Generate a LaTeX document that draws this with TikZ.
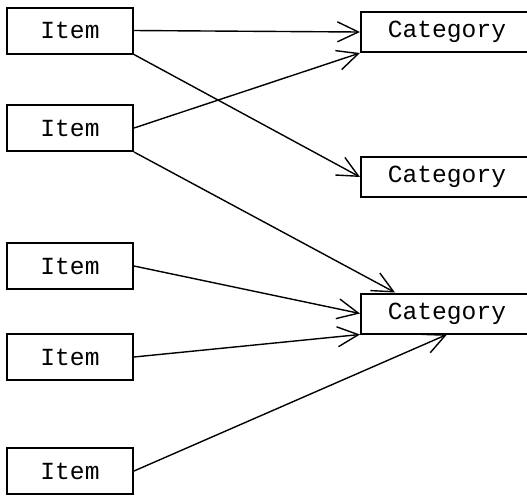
\documentclass[tikz,border=0pt]{standalone}
\usepackage{fontspec}
\setmonofont{Liberation Mono}
\usetikzlibrary{arrows.meta,positioning}
\tikzset{
  itembox/.style={draw=black,fill=white,line width=1pt,
                  minimum width=63pt,minimum height=23pt,
                  inner sep=0pt,font=\ttfamily\fontsize{12.3}{14}\selectfont},
  catbox/.style={draw=black,fill=white,line width=1pt,
                 minimum width=86pt,minimum height=20pt,
                 inner sep=0pt,font=\ttfamily\fontsize{12.3}{14}\selectfont},
  maparr/.style={-{Straight Barb[length=10.5pt,width=10pt,line width=0.7pt]},line width=0.7pt}
}

\begin{document}
\begin{tikzpicture}[x=0.5pt,y=-0.5pt]
      \clip (0,0) rectangle (527,495);
      \node[itembox] (i1) at (70,30.5) {Item};
      \node[itembox] (i2) at (70,128) {Item};
      \node[itembox] (i3) at (70,266) {Item};
      \node[itembox] (i4) at (70,357) {Item};
      \node[itembox] (i5) at (70,471) {Item};
      \node[catbox] (c1) at (447,32) {Category};
      \node[catbox] (c2) at (447,177) {Category};
      \node[catbox] (c3) at (447,313.5) {Category};
      \draw[maparr] (i1.east)--(c1.west);
      \draw[maparr] (i1.south east)--(c2.west);
      \draw[maparr] (i2.east)--(c1.south west);
      \draw[maparr] (i2.south east)--(c3.158);
      \draw[maparr] (i3.east)--(c3.west);
      \draw[maparr] (i4.east)--(c3.south west);
      \draw[maparr] (i5.east)--(c3.south);
    \end{tikzpicture}
\end{document}
